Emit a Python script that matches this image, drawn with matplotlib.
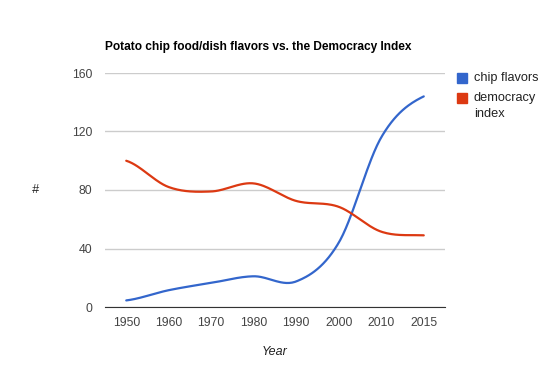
import numpy as np
import matplotlib
matplotlib.use('Agg')
import matplotlib.pyplot as plt
from matplotlib.patches import Rectangle

plt.rcParams['font.family'] = ['Liberation Sans', 'DejaVu Sans']

years = ['1950', '1960', '1970', '1980', '1990', '2000', '2010', '2015']
chip_flavors = [4.5, 11.5, 16.5, 21, 17.5, 44, 116, 144]
democracy_index = [100, 82, 79, 84.5, 72.5, 68.5, 51.5, 49]
yticks = [0, 40, 80, 120, 160]


def smooth(y, n=30):
    # catmull-rom style curve through the points (like curveType 'function')
    y = np.asarray(y, float)
    x = np.arange(len(y), dtype=float)
    p = np.concatenate([[y[0]], y, [y[-1]]])
    xs, ys = [], []
    for i in range(len(y) - 1):
        p0, p1, p2, p3 = p[i], p[i + 1], p[i + 2], p[i + 3]
        t = np.linspace(0, 1, n, endpoint=False)
        m1 = (p2 - p0) / 2
        m2 = (p3 - p1) / 2
        h00 = 2 * t**3 - 3 * t**2 + 1
        h10 = t**3 - 2 * t**2 + t
        h01 = -2 * t**3 + 3 * t**2
        h11 = t**3 - t**2
        xs.append(x[i] + t)
        ys.append(h00 * p1 + h10 * m1 + h01 * p2 + h11 * m2)
    xs.append([x[-1]]); ys.append([y[-1]])
    return np.concatenate(xs), np.concatenate(ys)


fig = plt.figure(figsize=(5.5, 3.79), dpi=100)
ax = fig.add_axes([105 / 550, 1 - 307 / 379, 340 / 550, 234 / 379])

for vals, col in [(chip_flavors, '#3366cc'), (democracy_index, '#dc3912')]:
    xs, ys = smooth(vals)
    ax.plot(xs, ys, color=col, lw=1.6, solid_capstyle='round')

ax.set_xlim(-0.5, len(years) - 0.5)
ax.set_ylim(0, 160)
ax.set_yticks(yticks)
ax.set_xticks(range(len(years)))
ax.set_xticklabels(years)
ax.grid(axis='y', color='#cccccc', lw=1)
ax.set_axisbelow(True)
for s in ['top', 'right', 'left']:
    ax.spines[s].set_visible(False)
ax.spines['bottom'].set_color('#333333')
ax.spines['bottom'].set_zorder(3)
ax.tick_params(length=0, labelsize=8.8, colors='#444444', pad=7)
ax.tick_params(axis='y', pad=9)

fig.text(105 / 550, 1 - 47 / 379, 'Potato chip food/dish flavors vs. the Democracy Index',
         fontsize=8.6, fontweight='bold', va='center', ha='left', color='#000000')
fig.text(35 / 550, 1 - 190 / 379, '#', fontsize=9, style='italic',
         color='#222222', ha='center', va='center')
fig.text(275 / 550, 1 - 352 / 379, 'Year', fontsize=9, style='italic',
         color='#222222', ha='center', va='center')

# legend
leg = [('chip flavors', '#3366cc', 78), ('democracy\nindex', '#dc3912', 98)]
for lab, col, yc in leg:
    fig.patches.append(Rectangle((457 / 550, 1 - (yc + 5) / 379), 10 / 550, 10 / 379,
                                 transform=fig.transFigure, color=col))
    fig.text(474 / 550, 1 - (yc - 6) / 379, lab, fontsize=9.2, color='#222222',
             ha='left', va='top', linespacing=1.45)

fig.savefig('out.png', dpi=100)
